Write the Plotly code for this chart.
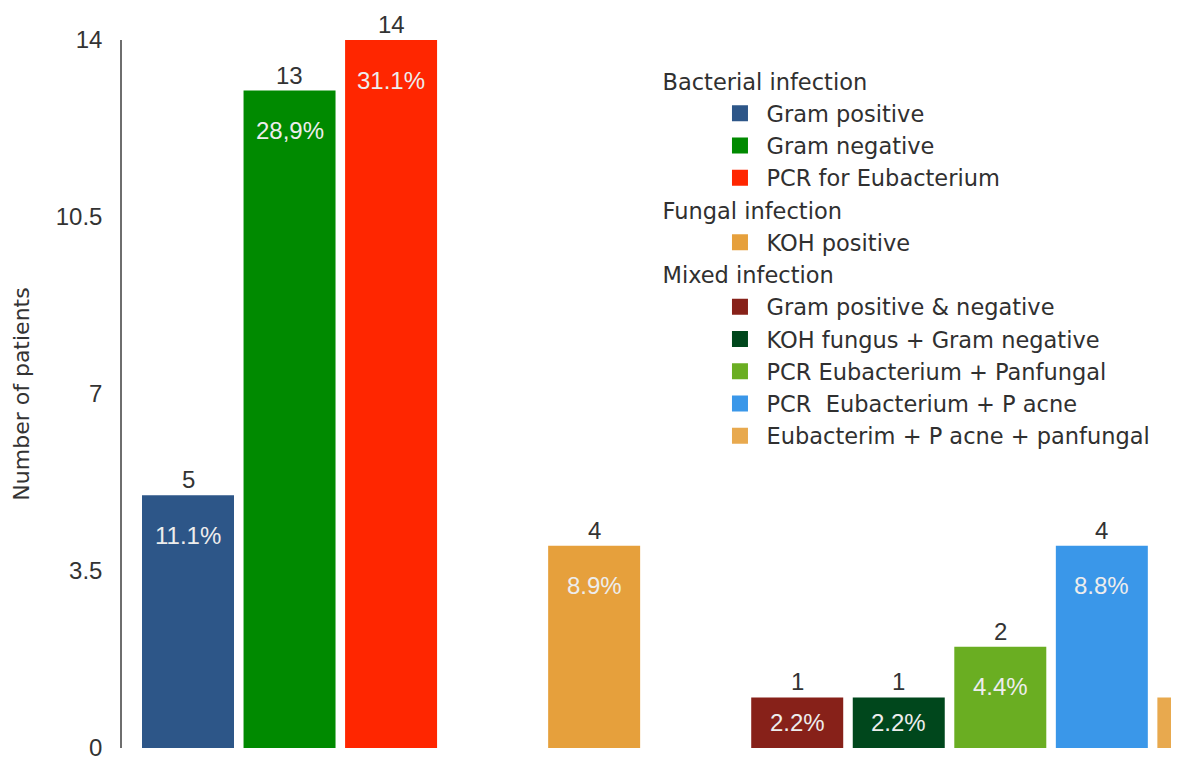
import plotly.graph_objects as go

# ---- data ----
groups = ["Bacterial infection", "Fungal infection", "Mixed infection"]
categories = [
    "Gram positive", "Gram negative", "PCR for Eubacterium",
    "KOH positive",
    "Gram positive & negative", "KOH fungus + Gram negative",
    "PCR Eubacterium + Panfungal", "PCR  Eubacterium + P acne",
    "Eubacterim + P acne + panfungal",
]
category_group = [0, 0, 0, 1, 2, 2, 2, 2, 2]
patients = [5, 13, 14, 4, 1, 1, 2, 4, 1]
percent_labels = ["11.1%", "28,9%", "31.1%", "8.9%", "2.2%", "2.2%", "4.4%", "8.8%", "2.2%"]
y_ticks = [0, 3.5, 7, 10.5, 14]
y_tick_labels = ["0", "3.5", "7", "10.5", "14"]

colors = ["#2D5688", "#008A00", "#FF2600", "#E6A03C",
          "#872119", "#00471C", "#6AAE22", "#3A97E9", "#E8A94E"]

# slot positions: one empty slot between groups
positions = []
pos = 0
prev = category_group[0]
for g in category_group:
    if g != prev:
        pos += 1
        prev = g
    positions.append(pos)
    pos += 1

FONT = "Liberation Sans"
LFONT = "DejaVu Sans"
TXT = "#303030"
fig = go.Figure()
for i, name in enumerate(categories):
    fig.add_trace(go.Bar(
        x=[positions[i]], y=[patients[i]], name=name,
        marker=dict(color=colors[i], line=dict(width=0)),
        width=0.906, showlegend=False, hoverinfo="skip",
    ))

# legend entries (square swatches)
seen = set()
for i, name in enumerate(categories):
    g = category_group[i]
    kw = {}
    if g not in seen:
        kw["legendgrouptitle_text"] = groups[g]
        seen.add(g)
    fig.add_trace(go.Scatter(
        x=[None], y=[None], mode="markers", name=name,
        marker=dict(symbol="square", size=18, color=colors[i]),
        legendgroup=groups[g], showlegend=True, **kw,
    ))

plot_h = 708
for i in range(len(categories)):
    fig.add_annotation(x=positions[i], y=patients[i], text=str(patients[i]),
                       showarrow=False, yanchor="bottom", yshift=0,
                       font=dict(family=FONT, size=24, color="#333333"))
    bar_px = patients[i] * plot_h / 14
    shift = -min(40, bar_px / 2)
    fig.add_annotation(x=positions[i], y=patients[i], text=percent_labels[i],
                       showarrow=False, yanchor="middle", yshift=shift,
                       font=dict(family=FONT, size=24, color="#EDEDED"))

fig.update_layout(
    width=1171, height=750,
    margin=dict(l=114, r=0, t=32, b=10, autoexpand=False),
    plot_bgcolor="white", paper_bgcolor="white",
    font=dict(family=FONT, color=TXT),
    showlegend=True,
    legend=dict(
        x=0.5066, y=0.972, xanchor="left", yanchor="top",
        font=dict(family=LFONT, size=22.5, color=TXT),
        grouptitlefont=dict(family=LFONT, size=22.5, color=TXT),
        tracegroupgap=0, indentation=56, itemwidth=43, itemsizing="trace",
        bgcolor="rgba(0,0,0,0)",
    ),
    xaxis=dict(range=[-0.65, 9.76], visible=False, showgrid=False, zeroline=False,
               automargin=False),
    yaxis=dict(
        range=[0, 14], tickvals=y_ticks, ticktext=y_tick_labels, automargin=False,
        showgrid=False, zeroline=False, showline=True, linecolor="#6E6E6E", linewidth=1.5,
        ticks="", ticklabelstandoff=13, ticklabeloverflow="allow",
        tickfont=dict(family=FONT, size=24, color="#333333"),
        title=dict(text="Number of patients", standoff=20,
                   font=dict(family=LFONT, size=22, color="#333333")),
    ),
    bargap=0.1,
)

fig.write_html("out.html")
